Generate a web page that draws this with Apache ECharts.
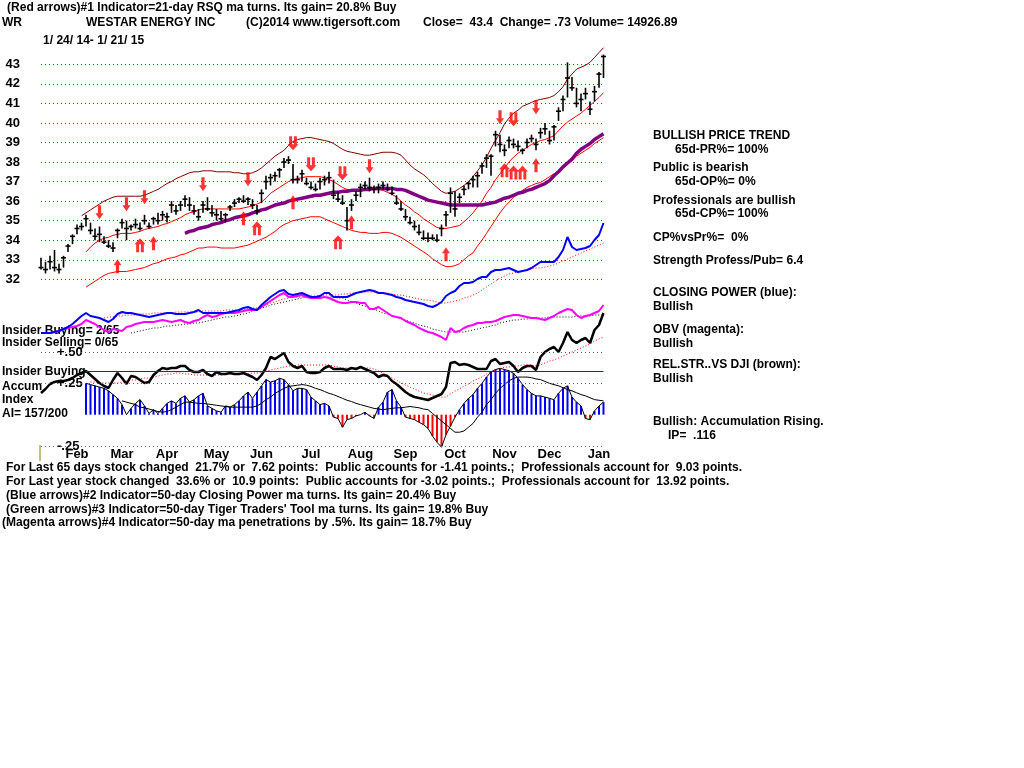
<!DOCTYPE html>
<html><head><meta charset="utf-8">
<script src="https://cdn.jsdelivr.net/npm/echarts@6/dist/echarts.min.js"></script>
<style>html,body{margin:0;padding:0;background:#fff}#c{width:1024px;height:768px}</style>
</head><body><div id="c"></div>
<script>
// ---- Data ----
const N = 126;
const monthNames = ['Feb','Mar','Apr','May','Jun','Jul','Aug','Sep','Oct','Nov','Dec','Jan'];
const monthIdx = [8,18,28,39,49,60,71,81,92,103,113,124];
const priceTicks = [32,33,34,35,36,37,38,39,40,41,42,43];

const priceLow = [32.5,32.3,32.5,32.4,32.3,32.6,33.4,33.8,34.3,34.5,
34.7,34.3,34.0,33.9,33.8,33.6,33.4,34.1,34.6,34.0,
34.5,34.6,34.5,34.8,34.6,34.8,34.8,35.0,34.9,35.4,
35.3,35.5,35.7,35.5,35.3,35.0,35.4,35.5,35.2,35.0,
35.0,34.9,35.5,35.7,35.9,35.9,35.8,35.6,35.3,35.9,
36.6,36.8,37.0,37.2,37.7,37.9,36.9,36.9,37.0,36.8,
36.6,36.5,36.6,36.8,36.9,36.1,35.95,35.8,34.5,35.5,
36.0,36.2,36.6,36.5,36.4,36.4,36.6,36.5,36.3,35.8,
35.5,35.0,34.8,34.5,34.25,34.0,33.9,34.0,33.9,34.2,
34.7,35.4,35.2,35.9,36.3,36.6,36.7,36.7,37.4,37.7,
37.3,38.8,38.5,38.3,38.7,38.7,38.55,38.4,38.7,39.0,
38.6,39.2,39.4,38.9,39.1,40.1,40.6,41.3,41.65,40.8,
40.6,41.2,40.4,41.1,41.8,42.3];
const priceHigh = [33.1,32.9,33.2,33.5,32.8,33.2,33.8,34.3,34.8,34.9,
35.3,34.9,34.6,34.7,34.2,34.0,33.9,34.6,35.1,35.0,
34.8,35.1,34.9,35.3,34.9,35.2,35.4,35.5,35.4,36.0,
35.8,36.0,36.3,36.2,35.8,35.6,36.0,36.2,35.8,35.6,
35.5,35.4,35.8,36.1,36.2,36.3,36.2,36.1,35.8,36.6,
37.3,37.4,37.5,37.7,38.2,38.3,37.9,37.3,37.6,37.2,
37.0,36.9,37.2,37.3,37.5,37.1,36.5,36.3,35.7,36.1,
36.5,36.9,37.0,37.2,36.8,36.9,37.0,36.9,36.75,36.3,
36.0,35.6,35.2,35.0,34.8,34.5,34.4,34.3,34.3,34.8,
35.5,36.7,36.5,36.4,36.8,37.0,37.3,37.5,37.95,38.4,
38.4,39.6,39.4,38.9,39.3,39.2,39.1,38.7,39.2,39.4,
39.2,39.75,40.0,39.6,39.9,40.8,41.4,43.1,42.35,41.8,
41.5,41.8,41.1,41.9,42.6,43.5];
const priceClose = [32.6,32.5,32.9,32.6,32.5,33.1,33.7,34.2,34.6,34.7,
35.1,34.5,34.2,34.3,33.9,33.7,33.6,34.5,34.9,34.6,
34.7,34.8,34.6,35.0,34.7,35.1,35.0,35.3,35.2,35.8,
35.5,35.8,36.1,35.8,35.5,35.2,35.8,35.6,35.4,35.3,
35.1,35.3,35.7,35.9,36.1,36.0,36.1,35.8,35.5,36.4,
37.0,37.2,37.3,37.6,38.0,38.1,37.1,37.1,37.4,36.9,
36.7,36.6,37.0,37.1,37.2,36.3,36.1,35.9,35.0,35.8,
36.3,36.7,36.8,36.7,36.6,36.7,36.8,36.6,36.4,35.9,
35.6,35.2,34.9,34.7,34.4,34.1,34.1,34.1,34.0,34.6,
35.3,36.4,35.6,36.2,36.6,36.9,37.1,37.3,37.8,38.2,
38.3,39.4,38.9,38.6,39.1,38.9,38.8,38.6,39.0,39.2,
38.9,39.5,39.7,39.1,39.8,40.6,41.2,42.3,41.8,41.0,
41.2,41.5,40.7,41.6,42.5,43.4];

const upperBand = [null,null,null,null,null,null,null,null,null,35.25,
35.4,35.55,35.7,35.85,36.0,36.1,36.2,36.25,36.25,36.25,
36.25,36.25,36.25,36.3,36.4,36.5,36.6,36.75,36.9,37.0,
37.15,37.25,37.35,37.45,37.5,37.5,37.55,37.55,37.55,37.5,
37.5,37.5,37.5,37.45,37.45,37.4,37.4,37.45,37.55,37.7,
37.9,38.1,38.3,38.45,38.6,38.85,39.05,39.15,39.2,39.25,
39.25,39.2,39.15,39.1,39.05,38.95,38.8,38.65,38.55,38.5,
38.45,38.4,38.35,38.35,38.4,38.45,38.5,38.5,38.5,38.45,
38.35,38.1,37.85,37.65,37.5,37.35,37.15,36.9,36.7,36.5,
36.4,36.45,36.5,36.65,36.8,37.0,37.25,37.55,37.85,38.25,
38.7,39.1,39.5,39.95,40.25,40.5,40.65,40.85,40.95,41.05,
41.15,41.2,41.25,41.3,41.4,41.6,41.85,42.25,42.5,42.75,
42.85,42.95,43.1,43.35,43.6,43.85];
const middleBand = [null,null,null,null,null,null,null,null,null,null,
33.4,33.65,33.85,34.0,34.1,34.15,34.25,34.3,34.35,34.35,
34.35,34.4,34.45,34.55,34.6,34.65,34.7,34.8,34.85,34.95,
35.05,35.15,35.3,35.4,35.45,35.55,35.6,35.6,35.6,35.6,
35.6,35.6,35.6,35.6,35.6,35.65,35.7,35.75,35.85,35.95,
36.15,36.4,36.55,36.7,36.85,37.0,37.1,37.15,37.2,37.25,
37.25,37.25,37.25,37.2,37.1,37.0,36.85,36.7,36.6,36.55,
36.55,36.55,36.6,36.6,36.6,36.6,36.55,36.45,36.35,36.2,
36.0,35.8,35.65,35.45,35.3,35.1,34.95,34.8,34.65,34.6,
34.6,34.65,34.7,34.75,34.95,35.15,35.4,35.7,36.0,36.4,
36.7,37.1,37.4,37.7,38.0,38.25,38.45,38.6,38.75,38.9,
39.0,39.1,39.15,39.25,39.35,39.6,39.85,40.05,40.2,40.35,
40.5,40.7,40.9,41.1,41.3,41.55];
const lowerBand = [null,null,null,null,null,null,null,null,null,null,
31.6,31.75,31.9,32.05,32.2,32.3,32.35,32.4,32.4,32.4,
32.45,32.5,32.55,32.6,32.7,32.8,32.85,32.95,33.05,33.1,
33.15,33.25,33.3,33.4,33.5,33.6,33.6,33.65,33.65,33.65,
33.6,33.6,33.6,33.6,33.65,33.7,33.75,33.85,33.95,34.05,
34.15,34.3,34.45,34.65,34.8,34.9,35.0,35.05,35.1,35.15,
35.2,35.2,35.2,35.1,35.0,34.9,34.8,34.7,34.6,34.5,
34.45,34.4,34.4,34.35,34.35,34.35,34.4,34.4,34.35,34.25,
34.15,34.0,33.85,33.7,33.55,33.4,33.25,33.05,32.9,32.75,
32.65,32.65,32.7,32.8,33.0,33.2,33.35,33.7,34.0,34.35,
34.7,35.05,35.4,35.7,35.95,36.2,36.35,36.55,36.7,36.8,
36.9,36.95,37.1,37.25,37.4,37.55,37.75,37.9,38.1,38.3,
38.45,38.6,38.75,38.95,39.1,39.25];
const ma65 = [null,null,null,null,null,null,null,null,null,null,
null,null,null,null,null,null,null,null,null,null,
null,null,null,null,null,null,null,null,null,null,
null,null,34.35,34.45,34.5,34.6,34.65,34.7,34.8,34.85,
34.9,35.0,35.05,35.15,35.2,35.25,35.3,35.4,35.45,35.55,
35.6,35.7,35.8,35.85,35.9,36.0,36.05,36.1,36.15,36.2,
36.25,36.3,36.3,36.35,36.4,36.45,36.45,36.5,36.5,36.55,
36.55,36.55,36.6,36.6,36.65,36.65,36.65,36.65,36.65,36.6,
36.6,36.55,36.45,36.35,36.25,36.15,36.05,36.0,35.95,35.9,
35.85,35.8,35.8,35.8,35.8,35.8,35.8,35.8,35.8,35.85,
35.9,35.95,36.05,36.15,36.2,36.3,36.4,36.45,36.55,36.6,
36.7,36.8,36.9,37.05,37.3,37.5,37.75,37.95,38.15,38.45,
38.65,38.8,38.95,39.15,39.3,39.45];

const closingPower = [1.2,1.2,1.2,1.3,1.4,1.6,1.8,2.1,2.5,2.9,
3.2,2.9,2.8,2.7,2.5,2.3,2.6,3.1,3.3,3.2,
3.2,3.1,3.0,2.9,2.8,2.9,3.0,3.1,3.2,3.2,
3.1,3.1,3.1,3.2,3.3,3.5,3.2,3.2,3.2,3.2,
3.2,3.2,3.3,3.4,3.5,3.7,3.8,3.6,3.5,4.0,
4.4,4.8,5.1,5.4,5.5,5.1,5.0,5.1,5.2,5.0,
4.8,4.8,4.9,5.2,5.2,4.8,4.8,4.8,4.8,5.0,
5.2,5.3,5.4,5.5,5.4,5.2,5.2,5.1,5.0,4.8,
4.7,4.5,4.4,4.3,4.2,4.1,3.9,3.8,4.0,4.3,
4.9,5.2,5.4,5.9,6.2,6.2,6.3,6.6,6.8,6.8,
7.3,7.5,7.5,7.6,7.7,7.5,7.3,7.4,7.5,7.7,
8.0,8.3,8.3,8.3,8.3,8.8,9.5,10.8,9.8,9.5,
9.6,9.7,9.9,10.5,11.0,12.2];
const obv = [1.2,1.2,1.2,1.3,1.4,1.6,1.7,1.8,1.9,2.1,
2.5,2.3,2.1,1.8,1.5,1.3,1.6,1.5,1.4,1.8,
1.9,2.1,2.2,2.3,2.3,2.3,2.4,2.5,2.4,2.3,
2.4,2.5,2.3,2.2,2.4,2.5,2.8,3.0,2.8,2.9,
3.1,3.2,3.2,3.2,3.3,3.4,3.5,3.5,3.5,3.8,
4.1,4.4,4.7,5.0,5.2,4.8,4.8,4.9,5.0,4.8,
4.7,4.7,4.7,4.8,4.7,4.5,4.3,4.2,4.2,4.3,
4.3,4.2,4.2,3.6,3.6,3.8,3.5,3.2,2.9,2.8,
2.7,2.4,2.2,2.0,1.7,1.5,1.3,1.2,1.0,0.8,
0.5,1.7,1.3,1.4,1.7,1.9,2.0,2.2,2.2,2.3,
2.3,2.4,2.6,2.8,2.9,3.0,3.0,2.9,2.8,2.7,
2.7,2.6,2.5,2.7,2.9,3.2,3.4,3.6,3.5,3.0,
2.7,2.9,3.0,3.2,3.4,4.0];
const closingPowerMA = [null,null,null,null,null,null,null,null,null,null,
null,null,null,null,2.7,2.8,2.8,2.9,2.9,3.0,
3.0,3.0,3.1,3.1,3.1,3.2,3.2,3.2,3.2,3.2,
3.3,3.3,3.3,3.3,3.3,3.3,3.4,3.4,3.4,3.4,
3.4,3.5,3.5,3.5,3.5,3.6,3.6,3.7,3.7,3.8,
4.0,4.2,4.3,4.5,4.6,4.7,4.8,4.8,4.8,4.9,
4.9,4.9,4.9,5.0,5.0,5.0,5.0,5.1,5.1,5.2,
5.2,5.3,5.3,5.3,5.3,5.3,5.2,5.2,5.1,5.0,
5.0,4.9,4.8,4.7,4.6,4.5,4.5,4.4,4.3,4.2,
4.2,4.3,4.4,4.5,4.7,4.8,5.0,5.2,5.5,5.8,
6.1,6.4,6.7,6.9,7.1,7.2,7.3,7.4,7.5,7.6,
7.7,7.7,7.8,7.9,8.0,8.2,8.4,8.6,8.8,9.0,
9.2,9.4,9.6,9.8,10.0,10.2];
const obvMA = [null,null,null,null,null,null,null,null,null,null,
null,null,null,null,null,null,null,null,null,null,
1.2,1.3,1.4,1.5,1.6,1.7,1.7,1.8,1.9,1.9,
2.0,2.0,2.1,2.1,2.2,2.2,2.3,2.4,2.5,2.6,
2.7,2.8,2.8,2.9,3.0,3.1,3.2,3.4,3.5,3.7,
3.8,4.0,4.1,4.2,4.3,4.4,4.5,4.6,4.7,4.8,
4.8,4.8,4.8,4.8,4.8,4.8,4.7,4.7,4.5,4.3,
4.2,4.0,3.9,3.7,3.6,3.4,3.2,3.1,2.9,2.8,
2.6,2.5,2.3,2.2,2.0,1.9,1.8,1.6,1.5,1.4,
1.3,1.3,1.3,1.3,1.3,1.4,1.5,1.6,1.7,1.8,
1.9,2.0,2.2,2.3,2.4,2.5,2.5,2.6,2.6,2.7,
2.7,2.7,2.7,2.8,2.8,2.8,2.8,2.8,2.8,2.9,
2.9,2.9,2.9,3.0,3.0,3.0];

const accumIndex = [null,null,null,null,null,null,null,null,null,null,
0.25,0.24,0.23,0.22,0.21,0.19,0.16,0.13,0.08,0.0,
0.05,0.09,0.12,0.07,0.01,0.04,0.01,0.05,0.09,0.11,
0.09,0.13,0.15,0.10,0.12,0.15,0.17,0.07,0.05,0.03,
0.02,0.07,0.06,0.08,0.11,0.15,0.18,0.13,0.18,0.23,
0.28,0.26,0.27,0.29,0.28,0.24,0.19,0.21,0.21,0.20,
0.14,0.11,0.08,0.09,0.07,-0.02,-0.03,-0.10,-0.04,-0.03,
-0.01,0.0,0.02,-0.01,-0.03,0.06,0.10,0.18,0.20,0.11,
0.06,-0.02,-0.03,-0.04,-0.06,-0.08,-0.11,-0.17,-0.22,-0.26,
-0.16,-0.09,-0.02,0.04,0.09,0.13,0.16,0.21,0.25,0.30,
0.34,0.36,0.37,0.36,0.35,0.33,0.29,0.24,0.20,0.17,
0.15,0.15,0.14,0.13,0.12,0.17,0.21,0.23,0.14,0.10,
0.07,-0.03,-0.04,0.03,0.07,0.10];
const accumMA = [null,null,null,null,null,null,null,null,null,null,
null,null,null,null,null,null,null,null,0.11,0.10,
0.09,0.08,0.06,0.055,0.045,0.035,0.025,0.02,0.025,0.04,
0.06,0.08,0.10,0.10,0.095,0.09,0.09,0.085,0.08,0.075,
0.07,0.065,0.06,0.06,0.06,0.06,0.06,0.06,0.07,0.09,
0.12,0.14,0.17,0.19,0.21,0.225,0.23,0.235,0.24,0.235,
0.225,0.21,0.20,0.185,0.17,0.16,0.145,0.13,0.115,0.105,
0.09,0.08,0.07,0.06,0.05,0.045,0.04,0.045,0.05,0.055,
0.055,0.06,0.065,0.06,0.055,0.045,0.04,0.01,-0.02,-0.05,
-0.08,-0.11,-0.14,-0.14,-0.13,-0.10,-0.07,-0.02,0.02,0.08,
0.12,0.17,0.21,0.24,0.27,0.29,0.30,0.30,0.30,0.295,
0.285,0.28,0.265,0.25,0.24,0.23,0.215,0.20,0.19,0.175,
0.16,0.15,0.135,0.12,0.115,0.11];
const insiderLevel = 0.35;

const relStrength = [5.3,5.7,6.2,6.4,6.5,6.5,6.6,6.8,7.1,7.3,
7.5,7.1,6.7,6.3,6.0,5.8,6.6,7.3,6.8,6.2,
7.0,6.9,6.6,6.3,6.4,7.1,7.5,7.8,7.7,7.8,
7.8,8.0,8.0,7.6,7.4,7.4,7.6,7.2,7.0,7.4,
7.2,7.2,7.3,7.2,7.2,7.3,7.1,6.9,6.6,7.1,
7.8,8.9,8.7,9.0,9.3,8.4,8.0,7.8,8.0,7.4,
7.3,7.3,7.4,7.8,8.0,7.7,7.7,7.7,7.6,7.8,
7.7,7.9,7.7,7.5,7.3,6.9,7.1,7.0,6.5,6.2,
5.8,5.4,5.1,4.9,4.8,4.7,4.6,4.8,5.0,5.2,
5.9,8.3,8.4,8.1,8.2,8.1,7.9,7.7,7.7,7.7,
8.5,8.7,8.2,8.3,8.4,8.0,7.4,7.8,8.0,8.0,
7.6,8.9,9.4,9.7,9.9,9.4,10.3,11.4,10.6,10.3,
10.6,10.8,10.3,11.6,12.1,13.3];
const relStrengthMA = [null,null,null,null,null,null,null,null,null,null,
null,6.4,6.4,6.3,6.3,6.3,6.3,6.3,6.4,6.5,
6.6,6.6,6.7,6.8,6.8,6.9,7.0,7.1,7.2,7.2,
7.3,7.3,7.2,7.2,7.1,7.1,7.1,7.1,7.1,7.1,
7.1,7.2,7.2,7.2,7.2,7.2,7.2,7.3,7.3,7.4,
7.5,7.6,7.7,7.8,7.9,8.0,8.0,8.1,8.1,8.1,
8.1,8.1,8.1,8.1,8.1,8.0,7.9,7.8,7.8,7.8,
7.8,7.8,7.8,7.8,7.7,7.5,7.3,7.1,6.8,6.6,
6.3,6.1,5.9,5.7,5.5,5.3,5.2,5.1,5.0,4.9,
4.9,5.2,5.5,5.7,6.0,6.2,6.5,6.7,6.9,7.2,
7.4,7.6,7.7,7.9,7.9,8.0,8.0,8.1,8.1,8.1,
8.0,8.1,8.3,8.5,8.6,8.8,9.0,9.2,9.4,9.6,
9.8,10.0,10.2,10.5,10.7,10.9];

const downArrowIdx = [13,19,23,36,46,56,60,67,73,102,105,110];
const downArrowPrice = [35.43,35.84,36.2,36.86,37.12,38.96,37.88,37.42,37.78,40.29,40.19,40.8];
const downArrowDouble = [0,0,0,0,0,1,1,1,0,0,1,0];
const upArrowIdx = [17,22,25,45,48,56,66,69,90,103,105,107,110];
const upArrowPrice = [32.67,33.74,33.84,35.12,34.61,35.94,33.89,34.92,33.28,37.58,37.47,37.47,37.83];
const upArrowDouble = [0,1,0,0,1,0,1,0,0,1,1,1,0];

const textLines = {
  top1: '(Red arrows)#1 Indicator=21-day RSQ ma turns. Its gain= 20.8% Buy',
  bottom1: 'For Last 65 days stock changed  21.7% or  7.62 points:  Public accounts for -1.41 points.;  Professionals account for  9.03 points.'
};

// ---- Build chart ----
const categories = [];
for (let i = 0; i < N; i++) { const k = monthIdx.indexOf(i); categories.push(k >= 0 ? monthNames[k] : ''); }
const barData = priceLow.map((lo, i) => [i, lo, priceHigh[i], priceClose[i]]);

const FONT = '"Liberation Sans",Arial,sans-serif';
const TFONT = 'bold 13px ' + FONT;
// horizontal squeeze so the bold sans text has the narrow width of the original screen font
const mctx = document.createElement('canvas').getContext('2d');
mctx.font = TFONT;
const SX = 736 / mctx.measureText(textLines.bottom1).width;

const SINGLE = 'path://M3,0 L7,0 L7,8 L10,8 L5,14 L0,8 L3,8 Z';
const DOUBLE = 'path://M1.5,0 L4.2,0 L4.2,8 L5.8,8 L5.8,0 L8.5,0 L8.5,8 L10,8 L5,14 L0,8 L1.5,8 Z';
function arrows(idx, price, dbl, up) {
  return idx.map((ix, k) => ({
    value: [ix, price[k]],
    symbol: dbl[k] ? DOUBLE : SINGLE,
    symbolSize: dbl[k] ? [11, 14] : [8, 14],
    symbolRotate: up ? 180 : 0
  }));
}

const G = {left: 41, width: 562.5};
const chart = echarts.init(document.getElementById('c'), null, {renderer: 'canvas'});
const hiddenCat = (gi) => ({type: 'category', gridIndex: gi, data: categories, boundaryGap: false,
  axisLine: {show: false}, axisTick: {show: false}, axisLabel: {show: false}, splitLine: {show: false}});
const lineS = (name, data, xi, yi, color, width, type, z) => ({
  name, type: 'line', data, xAxisIndex: xi, yAxisIndex: yi, symbol: 'none', clip: false,
  lineStyle: {color, width, type: type || 'solid'}, z: z || 2, silent: true, connectNulls: false
});

const textEl = (text, x, y) => ({type: 'text', x, y, scaleX: SX, silent: true,
  style: {text, fill: '#000', font: TFONT, verticalAlign: 'middle'}});
const AXFONT = {color: '#000', fontWeight: 'bold', fontSize: 13, fontFamily: FONT};

chart.setOption({
  animation: false,
  backgroundColor: '#fff',
  grid: [
    {left: G.left, width: G.width, top: 64.3, height: 215},
    {left: G.left, width: G.width, top: 220, height: 125},
    {left: G.left, width: G.width, top: 352, height: 94}
  ],
  xAxis: [
    hiddenCat(0), hiddenCat(1),
    {type: 'category', gridIndex: 2, data: categories, boundaryGap: false,
     axisLine: {show: false}, axisTick: {show: false}, splitLine: {show: false},
     axisLabel: Object.assign({interval: 0, margin: 2}, AXFONT)}
  ],
  yAxis: [
    {type: 'value', gridIndex: 0, min: 32, max: 43, interval: 1,
     axisLine: {show: false}, axisTick: {show: false},
     axisLabel: Object.assign({margin: 21, formatter: v => priceTicks.indexOf(v) >= 0 ? String(v) : ''}, AXFONT),
     splitLine: {lineStyle: {color: '#008000', type: [1, 3], width: 1}}},
    {type: 'value', gridIndex: 1, min: 0, max: 12.5, show: false},
    {type: 'value', gridIndex: 2, min: -0.25, max: 0.5, interval: 0.25,
     axisLine: {show: false}, axisTick: {show: false}, splitLine: {show: false},
     axisLabel: Object.assign({inside: true, margin: 16,
       formatter: v => (Math.abs(v - 0.5) < 1e-6 ? '+.50' : Math.abs(v - 0.25) < 1e-6 ? '+.25' : Math.abs(v + 0.25) < 1e-6 ? '-.25' : '')}, AXFONT)},
    {type: 'value', gridIndex: 2, min: 0, max: 9.4, show: false}
  ],
  series: [
    lineS('Upper band', upperBand, 0, 0, '#800000', 1),
    lineS('Middle band', middleBand, 0, 0, '#ff0000', 1),
    lineS('Lower band', lowerBand, 0, 0, '#ff0000', 1),
    lineS('65-day MA', ma65, 0, 0, '#800080', 3.5, 'solid', 3),
    {name: 'Price', type: 'custom', xAxisIndex: 0, yAxisIndex: 0, data: barData, z: 4, silent: true,
     encode: {x: 0, y: [1, 2, 3]},
     renderItem: function (params, api) {
       const i = api.value(0);
       const pl = api.coord([i, api.value(1)]), ph = api.coord([i, api.value(2)]), pc = api.coord([i, api.value(3)]);
       return {type: 'group', children: [
         {type: 'line', shape: {x1: pl[0], y1: pl[1], x2: ph[0], y2: ph[1]}, style: {stroke: '#000', lineWidth: 1.6}},
         {type: 'line', shape: {x1: pc[0] - 2.5, y1: pc[1], x2: pc[0] + 2.5, y2: pc[1]}, style: {stroke: '#000', lineWidth: 1.6}}
       ]};
     }},
    {name: 'Sell arrows', type: 'scatter', xAxisIndex: 0, yAxisIndex: 0, z: 5, silent: true,
     itemStyle: {color: '#ff0000'}, data: arrows(downArrowIdx, downArrowPrice, downArrowDouble, false)},
    {name: 'Buy arrows', type: 'scatter', xAxisIndex: 0, yAxisIndex: 0, z: 5, silent: true,
     itemStyle: {color: '#ff0000'}, data: arrows(upArrowIdx, upArrowPrice, upArrowDouble, true)},
    lineS('CP MA', closingPowerMA, 1, 1, '#ff0000', 1, [1, 2]),
    lineS('OBV MA', obvMA, 1, 1, '#000000', 1, [1, 2]),
    lineS('OBV', obv, 1, 1, '#ff00ff', 2, 'solid', 3),
    lineS('Closing Power', closingPower, 1, 1, '#0000ff', 2, 'solid', 3),
    {name: 'Accum Index', type: 'bar', xAxisIndex: 2, yAxisIndex: 2, data: accumIndex, barWidth: 2, silent: true,
     itemStyle: {color: p => (p.value < 0 ? '#ff0000' : '#0000ff')},
     markLine: {silent: true, symbol: 'none', label: {show: false},
       lineStyle: {color: '#606060', type: [1, 3], width: 1},
       data: [{yAxis: 0.5}, {yAxis: 0.25}, {yAxis: -0.25, lineStyle: {color: '#a040a0', type: [1, 3]}},
         [{coord: [10, insiderLevel], lineStyle: {color: '#800040', type: 'solid', width: 1}}, {coord: [N - 1, insiderLevel]}]]}},
    lineS('AI outline', accumIndex, 2, 2, '#000000', 1),
    lineS('AI MA', accumMA, 2, 2, '#000000', 1),
    lineS('RS MA', relStrengthMA, 2, 3, '#ff0000', 1, [1, 2]),
    lineS('Rel Strength', relStrength, 2, 3, '#000000', 2.5, 'solid', 4)
  ],
  graphic: [
    textEl(textLines.top1, 7, 7),
    textEl('WR', 2, 22),
    textEl('WESTAR ENERGY INC', 86, 22),
    textEl('(C)2014 www.tigersoft.com', 246, 22),
    textEl('Close=  43.4  Change= .73 Volume= 14926.89', 423, 22),
    textEl('1/ 24/ 14- 1/ 21/ 15', 43, 40),
    textEl('Insider Buying= 2/65', 2, 330),
    textEl('Insider Selling= 0/65', 2, 342),
    textEl('Insider Buying', 2, 371),
    textEl('Accum', 2, 386),
    textEl('Index', 2, 399),
    textEl('AI= 157/200', 2, 413),
    {type: 'line', silent: true, shape: {x1: 40, y1: 445, x2: 40, y2: 461}, style: {stroke: '#808000', lineWidth: 1}},
    textEl('BULLISH PRICE TREND', 653, 135),
    textEl('65d-PR%= 100%', 675, 149),
    textEl('Public is bearish', 653, 167),
    textEl('65d-OP%= 0%', 675, 181),
    textEl('Professionals are bullish', 653, 200),
    textEl('65d-CP%= 100%', 675, 213),
    textEl('CP%vsPr%=  0%', 653, 237),
    textEl('Strength Profess/Pub= 6.4', 653, 260),
    textEl('CLOSING POWER (blue):', 653, 292),
    textEl('Bullish', 653, 306),
    textEl('OBV (magenta):', 653, 329),
    textEl('Bullish', 653, 343),
    textEl('REL.STR..VS DJI (brown):', 653, 364),
    textEl('Bullish', 653, 378),
    textEl('Bullish: Accumulation Rising.', 653, 421),
    textEl('IP=  .116', 668, 435),
    textEl(textLines.bottom1, 6, 467),
    textEl('For Last year stock changed  33.6% or  10.9 points:  Public accounts for -3.02 points.;  Professionals account for  13.92 points.', 6, 481),
    textEl('(Blue arrows)#2 Indicator=50-day Closing Power ma turns. Its gain= 20.4% Buy', 6, 495),
    textEl('(Green arrows)#3 Indicator=50-day Tiger Traders\' Tool ma turns. Its gain= 19.8% Buy', 6, 509),
    textEl('(Magenta arrows)#4 Indicator=50-day ma penetrations by .5%. Its gain= 18.7% Buy', 2, 522)
  ]
});
</script>
</body></html>
